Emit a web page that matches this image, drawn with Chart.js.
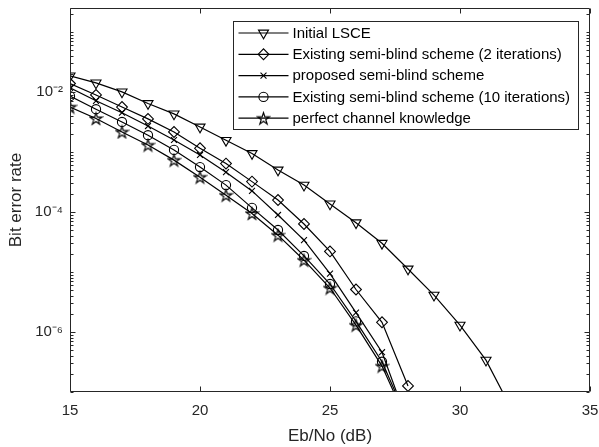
<!DOCTYPE html>
<html>
<head>
<meta charset="utf-8">
<script src="https://cdn.jsdelivr.net/npm/chart.js@4/dist/chart.umd.min.js"></script>
<style>
html,body{margin:0;padding:0;background:#fff;}
#c{display:block;}
</style>
</head>
<body>
<canvas id="c" width="599" height="447"></canvas>
<script>
// ---- data ----
const ebno = [15,16,17,18,19,20,21,22,23,24,25,26,27,28,29,30,31,32];
const xTickValues = [15,20,25,30,35];
const yTickValues = [1e-6,1e-4,1e-2];
const yTickLabels = ['10\u207B\u2076','10\u207B\u2074','10\u207B\u00B2'];
const seriesNames = [
  'Initial LSCE',
  'Existing semi-blind scheme (2 iterations)',
  'proposed semi-blind scheme',
  'Existing semi-blind scheme (10 iterations)',
  'perfect channel knowledge'
];
const initialLSCE = [0.0185,0.0141,0.0100,0.0064,0.0043,0.0026,0.00156,9.4e-4,5.0e-4,2.8e-4,1.36e-4,6.6e-5,3.0e-5,1.12e-5,4.1e-6,1.3e-6,3.4e-7,5e-8];
const existing2 = [0.0138,8.9e-3,5.6e-3,3.55e-3,2.15e-3,1.15e-3,6.4e-4,3.2e-4,1.58e-4,6.3e-5,2.2e-5,5.1e-6,1.45e-6,1.26e-7];
const proposed = [0.0117,7.1e-3,4.5e-3,2.7e-3,1.58e-3,8.9e-4,4.6e-4,2.24e-4,8.9e-5,3.4e-5,9.4e-6,2.1e-6,4.6e-7,3e-8];
const existing10 = [8.5e-3,5.15e-3,3.16e-3,1.9e-3,1.08e-3,5.6e-4,2.8e-4,1.17e-4,5.0e-5,1.85e-5,6.3e-6,1.5e-6,3.2e-7,3.3e-8];
const perfectCSI = [5.6e-3,3.6e-3,2.15e-3,1.3e-3,7.3e-4,3.8e-4,1.9e-4,9.4e-5,4.1e-5,1.57e-5,5.4e-6,1.3e-6,2.7e-7,3e-8];

// ---- styles ----
const AX = '#262626';
const FONT = '"Liberation Sans", Arial, Helvetica, sans-serif';

function makePentagram(){
  const s = 15, c = document.createElement('canvas');
  c.width = s; c.height = s;
  const g = c.getContext('2d');
  const R = 6.2, r = R * 0.382, cx = s/2, cy = s/2 + 0.6;
  g.beginPath();
  for (let k = 0; k < 10; k++) {
    const a = -Math.PI/2 + k * Math.PI/5;
    const rr = k % 2 === 0 ? R : r;
    const px = cx + rr * Math.cos(a), py = cy + rr * Math.sin(a);
    if (k === 0) g.moveTo(px, py); else g.lineTo(px, py);
  }
  g.closePath();
  g.strokeStyle = '#000'; g.lineWidth = 1.2; g.stroke();
  return c;
}
const star = makePentagram();

const markerStyles = [
  {pointStyle:'triangle', rotation:180, radius:5.8},
  {pointStyle:'rectRot', rotation:0, radius:5.4},
  {pointStyle:'crossRot', rotation:0, radius:4.2},
  {pointStyle:'circle', rotation:0, radius:4.6},
  {pointStyle:star, rotation:0, radius:6}
];
const seriesValues = [initialLSCE, existing2, proposed, existing10, perfectCSI];

const datasets = seriesValues.map((vals, i) => ({
  label: seriesNames[i],
  data: vals.map((v, k) => ({x: ebno[k], y: v})),
  borderColor: '#000',
  backgroundColor: 'rgba(0,0,0,0)',
  borderWidth: 1.2,
  pointStyle: markerStyles[i].pointStyle,
  pointRotation: markerStyles[i].rotation,
  pointRadius: markerStyles[i].radius,
  pointBorderColor: '#000',
  pointBackgroundColor: 'rgba(0,0,0,0)',
  pointBorderWidth: 1.1,
  tension: 0,
  fill: false
}));

// inward ticks + axes box (MATLAB style)
const boxPlugin = {
  id: 'boxTicks',
  afterDatasetsDraw(chart) {
    const {ctx, chartArea: a, scales: {x, y}} = chart;
    ctx.save();
    ctx.strokeStyle = AX;
    ctx.lineWidth = 1;
    ctx.beginPath();
    const L = Math.round(a.left) + 0.5, R = Math.round(a.right) - 0.5;
    const T = Math.round(a.top) + 0.5, B = Math.round(a.bottom) - 0.5;
    ctx.rect(L, T, R - L, B - T);
    xTickValues.forEach(v => {
      const px = Math.round(x.getPixelForValue(v)) + 0.5;
      ctx.moveTo(px, B); ctx.lineTo(px, B - 5);
      ctx.moveTo(px, T); ctx.lineTo(px, T + 5);
    });
    const lo = Math.floor(Math.log10(y.min)), hi = Math.ceil(Math.log10(y.max));
    for (let e = lo; e <= hi; e++) {
      for (let m = 1; m <= 9; m++) {
        const v = m * Math.pow(10, e);
        if (v < y.min || v > y.max) continue;
        const major = m === 1 && yTickValues.some(t => Math.abs(t - v) / v < 1e-9);
        const len = major ? 5 : 3;
        const py = Math.round(y.getPixelForValue(v)) + 0.5;
        ctx.moveTo(L, py); ctx.lineTo(L + len, py);
        ctx.moveTo(R, py); ctx.lineTo(R - len, py);
      }
    }
    ctx.stroke();
    ctx.restore();
  }
};

// legend drawn inside the axes, MATLAB-like (line + marker sample)
const legendPlugin = {
  id: 'insideLegend',
  afterDraw(chart) {
    const {ctx, chartArea: a} = chart;
    const ds = chart.data.datasets;
    ctx.save();
    ctx.font = '15px ' + FONT;
    let maxW = 0;
    ds.forEach(d => { maxW = Math.max(maxW, ctx.measureText(d.label).width); });
    const rowH = 21.3;
    const w = 59 + maxW + 8;
    const h = rowH * ds.length + 1.5;
    const right = a.right - 12;
    const left = Math.round(right - w) + 0.5;
    const top = Math.round(a.top + 13) + 0.5;
    ctx.fillStyle = '#fff';
    ctx.fillRect(left, top, w, h);
    ctx.strokeStyle = AX;
    ctx.lineWidth = 1;
    ctx.strokeRect(left, top, Math.round(w), Math.round(h));
    ds.forEach((d, i) => {
      const cy = top + 11.5 + i * rowH;
      ctx.strokeStyle = '#000';
      ctx.lineWidth = 1.2;
      ctx.beginPath();
      ctx.moveTo(left + 5, cy); ctx.lineTo(left + 55, cy);
      ctx.stroke();
      ctx.fillStyle = 'rgba(0,0,0,0)';
      ctx.lineWidth = 1.1;
      Chart.helpers.drawPoint(ctx, {
        pointStyle: d.pointStyle, rotation: d.pointRotation,
        radius: d.pointRadius, borderWidth: 1.1
      }, left + 30, cy);
      ctx.fillStyle = '#000';
      ctx.textBaseline = 'middle';
      ctx.textAlign = 'left';
      ctx.fillText(d.label, left + 59, cy + 0.5);
    });
    ctx.restore();
  }
};

new Chart(document.getElementById('c'), {
  type: 'line',
  data: {datasets},
  plugins: [boxPlugin, legendPlugin],
  options: {
    responsive: false,
    devicePixelRatio: 1,
    animation: false,
    events: [],
    layout: {padding: {left: 0, top: 8, right: 9, bottom: 0}},
    plugins: {legend: {display: false}, tooltip: {enabled: false}},
    scales: {
      x: {
        type: 'linear', min: 15, max: 35,
        afterBuildTicks: s => { s.ticks = xTickValues.map(v => ({value: v})); },
        afterFit: s => { s.height = 55; s.paddingLeft = 0; s.paddingRight = 0; s.paddingTop = 0; s.paddingBottom = 0; },
        grid: {display: false, drawTicks: false},
        border: {display: false},
        ticks: {color: AX, font: {family: FONT, size: 15}, padding: 10, maxRotation: 0, autoSkip: false},
        title: {display: true, text: 'Eb/No (dB)', color: AX, font: {family: FONT, size: 17}, padding: {top: 1, bottom: 0}}
      },
      y: {
        type: 'logarithmic', min: 1e-7, max: 0.25,
        afterBuildTicks: s => { s.ticks = yTickValues.map(v => ({value: v})); },
        afterFit: s => { s.width = 70; s.paddingLeft = 0; s.paddingRight = 0; s.paddingTop = 0; s.paddingBottom = 0; },
        grid: {display: false, drawTicks: false},
        border: {display: false},
        ticks: {
          color: AX, font: {family: FONT, size: 15}, padding: 7, autoSkip: false,
          callback: v => { const i = yTickValues.findIndex(t => Math.abs(t - v) / t < 1e-9); return i >= 0 ? yTickLabels[i] : ''; }
        },
        title: {display: true, text: 'Bit error rate', color: AX, font: {family: FONT, size: 17}, padding: {top: 6, bottom: 0}}
      }
    }
  }
});
</script>
</body>
</html>
